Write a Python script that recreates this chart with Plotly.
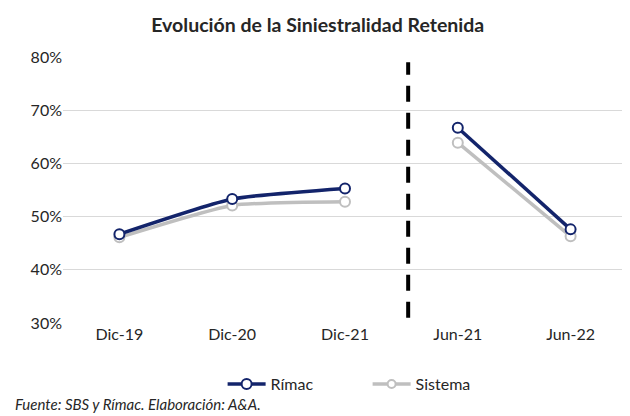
import plotly.graph_objects as go

# Data
periods_a = ['Dic-19', 'Dic-20', 'Dic-21']
periods_b = ['Jun-21', 'Jun-22']
rimac_a = [0.467, 0.533, 0.553]
rimac_b = [0.667, 0.476]
sistema_a = [0.461, 0.521, 0.528]
sistema_b = [0.639, 0.463]
categories = periods_a + periods_b

NAVY = '#13246B'
GRAY = '#BFBFBF'
FONT = 'Lato, Carlito, Calibri, sans-serif'


def series(x, y, name, color, show):
    return go.Scatter(x=x, y=y, name=name, legendgroup=name, showlegend=show,
                      mode='lines+markers',
                      line=dict(color=color, width=3.5, shape='spline', smoothing=0.5),
                      marker=dict(symbol='circle', size=10, color='white',
                                  line=dict(color=color, width=2)))


fig = go.Figure()
# gray first so navy draws on top
fig.add_trace(series(periods_a, sistema_a, 'Sistema', GRAY, False))
fig.add_trace(series(periods_b, sistema_b, 'Sistema', GRAY, False))
fig.add_trace(series(periods_a, rimac_a, 'Rímac', NAVY, True))
fig.add_trace(series(periods_b, rimac_b, 'Rímac', NAVY, False))
# legend entry for Sistema after Rímac
fig.add_trace(go.Scatter(x=[None], y=[None], name='Sistema', legendgroup='Sistema',
                         mode='lines+markers',
                         line=dict(color=GRAY, width=3.5),
                         marker=dict(size=8, color='white', line=dict(color=GRAY, width=2))))

# dashed separator between the annual and semester periods
fig.add_shape(type='line', xref='x', yref='y', x0=2.56, x1=2.56, y0=0.31, y1=0.79,
              line=dict(color='black', width=4, dash='16px,11px'))

# page body has an 8px margin, so the figure is 8px smaller than the window
fig.update_layout(
    width=622, height=408,
    margin=dict(l=55, r=3, t=49, b=93),
    paper_bgcolor='white', plot_bgcolor='white',
    font=dict(family=FONT, size=16, color='#262626'),
    title=dict(text='<b>Evolución de la Siniestralidad Retenida</b>',
               xref='container', x=0.498, xanchor='center',
               yref='container', y=0.958, yanchor='middle',
               font=dict(size=19.5, color='#262626')),
    xaxis=dict(type='category', categoryorder='array', categoryarray=categories,
               range=[-0.5, 4.5], showgrid=False, showline=False, zeroline=False,
               ticks='', tickfont=dict(size=16), automargin=False),
    yaxis=dict(range=[0.3, 0.8], dtick=0.1, tickformat='.0%',
               showgrid=True, gridcolor='#D9D9D9', gridwidth=1,
               zeroline=False, showline=False, ticks='',
               tickfont=dict(size=16), automargin=False),
    legend=dict(orientation='h', x=0.283, xanchor='left', y=-0.23, yanchor='middle',
                font=dict(size=16), itemwidth=38, entrywidth=92,
                traceorder='normal'),
    annotations=[dict(text='<i>Fuente: SBS y Rímac. Elaboración: A&A.</i>',
                      xref='paper', yref='paper', x=0, y=-0.305, xshift=-50,
                      xanchor='left', yanchor='middle', showarrow=False,
                      font=dict(size=15, color='#262626'))],
)

fig.write_html('out.html')
